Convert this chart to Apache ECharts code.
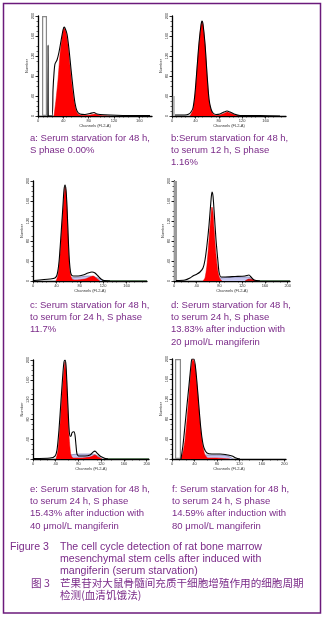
<!DOCTYPE html>
<html>
<head>
<meta charset="utf-8">
<script src="https://cdn.jsdelivr.net/npm/echarts@6/dist/echarts.min.js"></script>
<style>
  html, body { margin: 0; padding: 0; background: #fff; }
  #chart { width: 327px; height: 618px; }
</style>
</head>
<body>
<div id="chart"></div>
<script>
// ---- data (channel, count) ----
var xTicksA = [0, 40, 80, 120, 160]
var xTicksB = [0, 40, 80, 120, 160]
var xTicksD = [0, 40, 80, 120, 160, 200]
var yTicks = [0, 40, 80, 120, 160, 200]

// a: serum starvation 48 h
var debrisA = [[10.3, 200]]
var fitA = [[25.3, 0], [28.4, 32], [31.6, 72], [34.7, 122], [37.9, 156], [41.1, 176], [44.2, 168], [47.4, 142], [50.5, 102], [53.7, 62], [56.8, 32], [60.0, 12], [63.2, 4], [69.5, 1], [82.1, 2], [90.0, 4], [97.9, 1], [113.7, 0]]
var histA = [[15.6, 0], [15.9, 142], [16.3, 0], [22.1, 0], [23.7, 52], [25.3, 86], [26.8, 104], [30.0, 112], [33.2, 128], [36.3, 150], [39.5, 172], [41.1, 178], [42.6, 176], [45.8, 164], [48.9, 134], [52.1, 94], [55.3, 56], [58.4, 26], [61.6, 10], [66.3, 4], [74.2, 3], [82.1, 5], [88.4, 7], [93.2, 4], [97.9, 3], [113.7, 2], [145.3, 1], [176.8, 1]]

// b: to serum 12 h
var debrisB = [[3, 40]]
var fitB = [[30.8, 0], [35.9, 12], [39.4, 42], [42.8, 92], [46.2, 142], [49.6, 180], [51.3, 188], [53.0, 182], [56.5, 142], [59.9, 82], [63.3, 32], [66.7, 12], [70.2, 4], [75.3, 1], [82.1, 2], [90.7, 6], [94.1, 8], [99.2, 6], [107.8, 2], [116.3, 0]]
var histB = [[5.1, 2], [22.2, 2], [29.1, 4], [32.5, 8], [35.9, 16], [39.4, 46], [42.8, 96], [46.2, 146], [49.6, 182], [51.3, 190], [53.0, 184], [56.5, 144], [59.9, 84], [63.3, 34], [66.7, 14], [70.2, 6], [75.3, 3], [82.1, 4], [89.0, 8], [94.1, 10], [99.2, 8], [106.1, 4], [116.3, 1], [150.6, 1], [184.8, 0]]

// c: to serum 24 h
var fitC = [[39.4, 0], [42.8, 12], [46.2, 52], [49.6, 112], [53.0, 166], [54.8, 188], [56.5, 178], [58.2, 142], [59.9, 92], [61.6, 46], [63.3, 18], [66.7, 4], [71.9, 2], [89.0, 4], [97.5, 8], [102.7, 10], [107.8, 6], [114.6, 0]]
var sC = [[42.8, 0], [49.6, 4], [63.3, 6], [80.4, 8], [94.1, 10], [106.1, 8], [114.6, 4], [121.5, 0]]
var histC = [[1.7, 1], [29.1, 4], [37.6, 6], [41.1, 12], [44.5, 38], [47.9, 92], [51.3, 152], [53.0, 182], [54.8, 192], [56.5, 182], [58.2, 148], [59.9, 98], [61.6, 52], [63.3, 26], [65.0, 14], [68.4, 10], [77.0, 10], [85.6, 12], [94.1, 16], [100.9, 18], [106.1, 16], [111.2, 10], [116.3, 4], [121.5, 1], [131.7, 0]]
var tailC = [[118, 1], [195, 1]]

// d: 20 umol/L mangiferin
var debrisD = [[2.6, 200]]
var fitD = [[51.0, 0], [54.5, 6], [58.0, 32], [61.6, 82], [65.1, 132], [66.8, 148], [68.6, 138], [70.4, 106], [73.9, 52], [77.4, 18], [80.9, 4], [84.4, 0]]
var g2D = [[124.9, 0], [131.9, 4], [138.9, 3], [144.2, 0]]
var sD = [[59.8, 0], [70.4, 4], [80.9, 6], [107.3, 8], [130.2, 8], [137.2, 4], [142.5, 0]]
var histD = [[3.5, 1], [19.3, 2], [28.1, 6], [33.4, 10], [40.5, 14], [45.7, 18], [51.0, 26], [54.5, 42], [58.0, 72], [61.6, 112], [65.1, 162], [66.8, 178], [68.6, 170], [70.4, 142], [73.9, 82], [77.4, 38], [79.2, 18], [82.7, 8], [89.7, 8], [107.3, 9], [124.9, 10], [131.9, 12], [135.4, 8], [140.7, 2], [151.3, 0]]
var tailD = [[142, 1], [204, 1]]

// e: 40 umol/L mangiferin
var fitE = [[40.5, 0], [44.0, 18], [47.5, 69], [51.0, 129], [54.5, 180], [56.3, 196], [58.0, 180], [59.8, 139], [61.6, 89], [63.3, 48], [65.1, 22], [66.8, 8], [70.4, 2], [82.7, 2], [100.3, 4], [109.1, 8], [114.3, 4], [121.4, 0]]
var sE = [[47.5, 0], [56.3, 4], [65.1, 8], [82.7, 10], [103.8, 10], [114.3, 6], [121.4, 0]]
var histE = [[1.8, 1], [29.9, 2], [38.7, 6], [42.2, 18], [45.7, 59], [49.3, 119], [52.8, 176], [54.5, 196], [56.3, 200], [58.0, 190], [59.8, 149], [61.6, 103], [63.3, 63], [65.1, 46], [66.8, 46], [68.6, 53], [72.1, 55], [73.9, 48], [75.6, 28], [77.4, 10], [80.9, 6], [91.5, 6], [100.3, 8], [105.5, 14], [109.1, 16], [112.6, 12], [117.9, 6], [124.9, 2], [131.9, 0]]
var tailE = [[125, 1], [204, 1]]

// f: 80 umol/L mangiferin
var debrisF = [[10.7, 200]]
var fitF = [[16.0, 0], [19.6, 14], [23.2, 38], [26.7, 78], [30.3, 128], [33.8, 178], [37.4, 200], [41.0, 188], [44.5, 148], [48.1, 98], [51.6, 54], [55.2, 24], [58.8, 8], [64.1, 2], [76.6, 2], [103.3, 0]]
var sF = [[32.1, 0], [42.7, 4], [58.8, 8], [85.5, 8], [99.7, 6], [108.6, 0]]
var histF = [[16.0, 0], [19.6, 28], [23.2, 68], [26.7, 108], [30.3, 148], [33.8, 188], [35.6, 200], [39.2, 200], [42.7, 174], [46.3, 128], [49.9, 78], [53.4, 42], [57.0, 22], [62.3, 12], [71.2, 10], [85.5, 10], [99.7, 8], [106.9, 6], [114.0, 2], [121.1, 0]]

var captionA = ['a: Serum starvation for 48 h,', 'S phase 0.00%']
var captionB = ['b:Serum starvation for 48 h,', 'to serum 12 h, S phase', '1.16%']
var captionC = ['c: Serum starvation for 48 h,', 'to serum for 24 h, S phase', '11.7%']
var captionD = ['d: Serum starvation for 48 h,', 'to serum 24 h, S phase', '13.83% after induction with', '20 \u03bcmol/L mangiferin']
var captionE = ['e: Serum starvation for 48 h,', 'to serum 24 h, S phase', '15.43% after induction with', '40 \u03bcmol/L mangiferin']
var captionF = ['f: Serum starvation for 48 h,', 'to serum 24 h, S phase', '14.59% after induction with', '80 \u03bcmol/L mangiferin']
var figLabelEn = 'Figure 3'
var figTitleEn = ['The cell cycle detection of rat bone marrow', 'mesenchymal stem cells after induced with', 'mangiferin (serum starvation)']
var figLabelZh = '\u56fe 3'
var figTitleZh = ['\u8292\u679c\u82f7\u5bf9\u5927\u9f20\u9aa8\u9ad3\u95f4\u5145\u8d28\u5e72\u7ec6\u80de\u589e\u6b96\u4f5c\u7528\u7684\u7ec6\u80de\u5468\u671f', '\u68c0\u6d4b(\u8840\u6e05\u9965\u997f\u6cd5)']

// ---- layout ----
var panels = [
  { grid: { left: 38, top: 16, width: 114, height: 100 }, xMax: 180, xTicks: xTicksA, debris: debrisA, debrisW: 5, debrisColor: '#fff', fit: fitA, hist: histA, caption: captionA, capX: 30, capY: 138 },
  { grid: { left: 172, top: 16, width: 114, height: 100 }, xMax: 195, xTicks: xTicksB, debris: debrisB, debrisW: 2, debrisColor: '#b0b0b0', fit: fitB, hist: histB, caption: captionB, capX: 171, capY: 138 },
  { grid: { left: 33, top: 181, width: 114, height: 100 }, xMax: 195, xTicks: xTicksB, fit: fitC, s: sC, hist: histC, tail: tailC, caption: captionC, capX: 30, capY: 305 },
  { grid: { left: 174, top: 181, width: 116, height: 100 }, xMax: 204, xTicks: xTicksD, debris: debrisD, debrisW: 3, debrisColor: '#9a9a9a', fit: fitD, g2: g2D, s: sD, hist: histD, tail: tailD, caption: captionD, capX: 171, capY: 305 },
  { grid: { left: 33, top: 360, width: 116, height: 99 }, xMax: 204, xTicks: xTicksD, fit: fitE, s: sE, hist: histE, tail: tailE, caption: captionE, capX: 30, capY: 489 },
  { grid: { left: 172, top: 359, width: 114, height: 100 }, xMax: 203, xTicks: xTicksD, debris: debrisF, debrisW: 6, debrisColor: '#fff', fit: fitF, s: sF, hist: histF, caption: captionF, capX: 172, capY: 489 }
]

var textColor = '#7a2a88'
var font = '"Liberation Sans", Arial, sans-serif'
var grids = [], xAxes = [], yAxes = [], series = [], graphics = []

panels.forEach(function(p, i) {
  grids.push(p.grid)
  xAxes.push({
    type: 'value', gridIndex: i, min: 0, max: p.xMax,
    name: 'Channels (FL2-A)', nameLocation: 'middle', nameGap: 8,
    nameTextStyle: { fontSize: 4, color: '#333', fontFamily: font },
    axisLine: { lineStyle: { color: '#000', width: 1.3 } },
    axisTick: { length: 2.5, customValues: p.xTicks, lineStyle: { color: '#000', width: 0.8 } },
    minorTick: { show: true, splitNumber: 4, length: 1.5, lineStyle: { color: '#000', width: 0.6 } },
    axisLabel: { customValues: p.xTicks, fontSize: 4, margin: 3, color: '#333', fontFamily: font },
    splitLine: { show: false }
  })
  yAxes.push({
    type: 'value', gridIndex: i, min: 0, max: 200,
    name: 'Number', nameLocation: 'middle', nameGap: 9, nameRotate: 90,
    nameTextStyle: { fontSize: 4, color: '#333', fontFamily: font },
    axisLine: { lineStyle: { color: '#000', width: 1.3 } },
    axisTick: { length: 2.5, customValues: yTicks, lineStyle: { color: '#000', width: 0.8 } },
    minorTick: { show: true, splitNumber: 5, length: 1.5, lineStyle: { color: '#000', width: 0.6 } },
    axisLabel: { customValues: yTicks, fontSize: 4, margin: 3, rotate: 90, color: '#333', fontFamily: font },
    splitLine: { show: false }
  })
  if (p.debris) {
    series.push({
      type: 'bar', xAxisIndex: i, yAxisIndex: i, data: p.debris, barWidth: p.debrisW,
      itemStyle: { color: p.debrisColor, borderColor: '#888', borderWidth: p.debrisColor === '#fff' ? 1.2 : 0 },
      silent: true, z: 1
    })
  }
  if (p.s) {
    series.push({
      type: 'line', xAxisIndex: i, yAxisIndex: i, data: p.s, symbol: 'none', smooth: 0.3,
      lineStyle: { color: '#7a7aa8', width: 0.7 }, areaStyle: { color: '#c4c4ee', opacity: 1 }, z: 2
    })
  }
  if (p.tail) {
    series.push({
      type: 'line', xAxisIndex: i, yAxisIndex: i, data: p.tail, symbol: 'none',
      lineStyle: { color: '#5f7a5f', width: 1 }, z: 2
    })
  }
  series.push({
    type: 'line', xAxisIndex: i, yAxisIndex: i, data: p.fit, symbol: 'none', smooth: 0.25,
    lineStyle: { color: '#e00000', width: 0.5 }, areaStyle: { color: '#ff0000', opacity: 1 }, z: 3
  })
  if (p.g2) {
    series.push({
      type: 'line', xAxisIndex: i, yAxisIndex: i, data: p.g2, symbol: 'none', smooth: 0.3,
      lineStyle: { color: '#c00000', width: 0.5 }, areaStyle: { color: '#d01010', opacity: 1 }, z: 3
    })
  }
  series.push({
    type: 'line', xAxisIndex: i, yAxisIndex: i, data: p.hist, symbol: 'none', smooth: 0.25,
    lineStyle: { color: '#000', width: 1.1 }, z: 4
  })
  p.caption.forEach(function(line, k) {
    graphics.push({
      type: 'text', x: p.capX, y: p.capY + k * 12.3,
      style: { text: line, fill: textColor, fontSize: 9.5, fontFamily: font, verticalAlign: 'middle' }
    })
  })
})

// figure caption
graphics.push({ type: 'text', x: 10, y: 547, style: { text: figLabelEn, fill: textColor, fontSize: 10.6, fontFamily: font, verticalAlign: 'middle' } })
figTitleEn.forEach(function(line, k) {
  graphics.push({ type: 'text', x: 60, y: 547 + k * 12, style: { text: line, fill: textColor, fontSize: 10.6, fontFamily: font, verticalAlign: 'middle' } })
})
graphics.push({ type: 'text', x: 31, y: 583, style: { text: figLabelZh, fill: textColor, fontSize: 10.6, fontFamily: '"Noto Sans CJK SC", sans-serif', verticalAlign: 'middle' } })
figTitleZh.forEach(function(line, k) {
  graphics.push({ type: 'text', x: 60, y: 583 + k * 12, style: { text: line, fill: textColor, fontSize: 10.6, fontFamily: '"Noto Sans CJK SC", sans-serif', verticalAlign: 'middle' } })
})
// outer frame
graphics.push({ type: 'rect', shape: { x: 3.5, y: 3.5, width: 317, height: 609.5 }, style: { fill: 'none', stroke: '#6b1a7b', lineWidth: 1.5 }, silent: true })

var chart = echarts.init(document.getElementById('chart'), null, { renderer: 'canvas' })
chart.setOption({
  animation: false,
  backgroundColor: '#fff',
  grid: grids,
  xAxis: xAxes,
  yAxis: yAxes,
  series: series,
  graphic: graphics
})
</script>
</body>
</html>
